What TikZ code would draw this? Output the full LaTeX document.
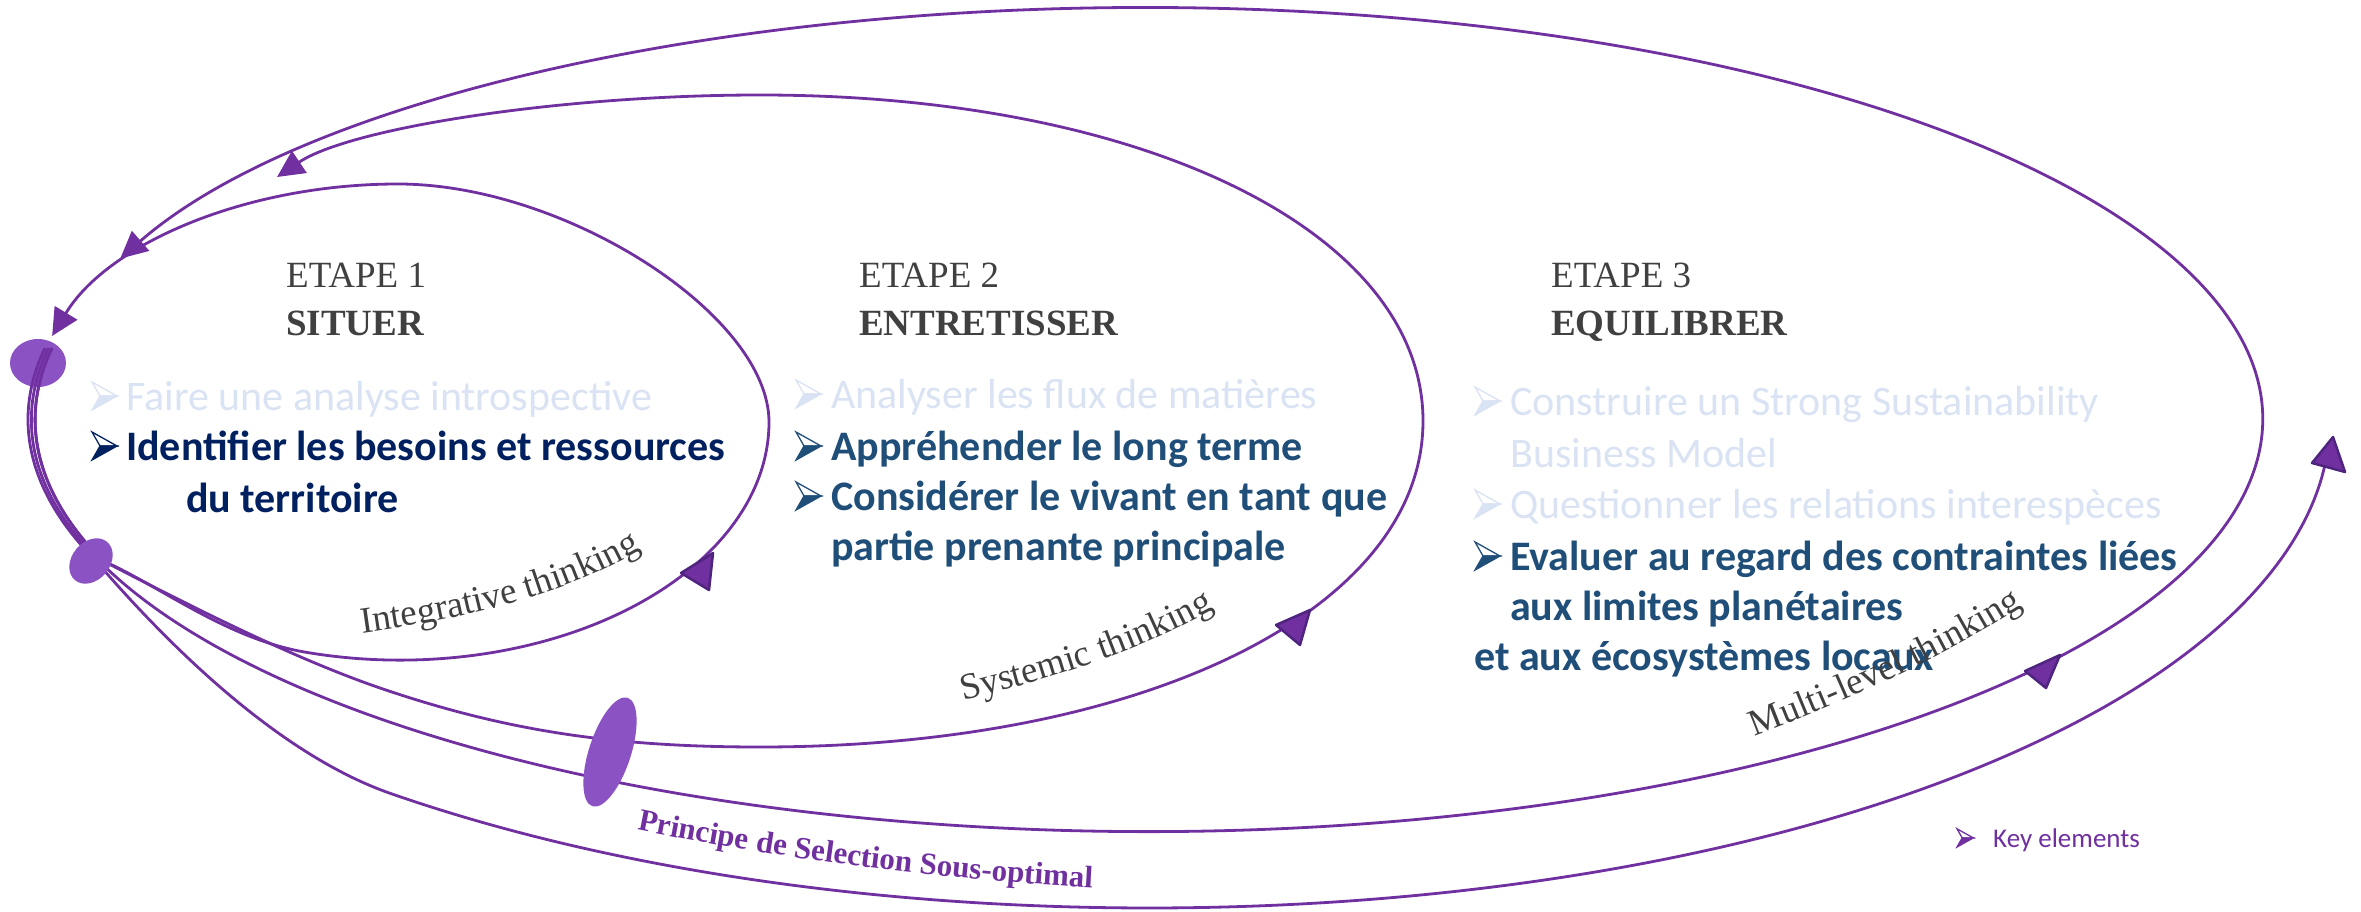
\documentclass[tikz,border=0pt]{standalone}
\usepackage{fontspec}
\setmainfont{Liberation Serif}
\newfontfamily\calfont{Carlito}
\usetikzlibrary{arrows.meta,decorations.text,shapes.geometric}
\definecolor{linepurple}{RGB}{112,48,160}
\definecolor{blobpurple}{RGB}{139,82,196}
\definecolor{tridark}{RGB}{78,36,126}
\definecolor{headgray}{RGB}{64,64,64}
\definecolor{palebl}{RGB}{218,227,243}
\definecolor{navyb}{RGB}{0,32,96}
\definecolor{steelb}{RGB}{31,78,121}
\newcommand\labfont{\fontsize{37}{37}\selectfont}
\newcommand\prfont{\bfseries\fontsize{31}{31}\selectfont}
\begin{document}
\begin{tikzpicture}[x=1pt,y=-1pt,
  loopline/.style={draw=linepurple, line width=2.8pt},
  endtip/.style={-{Triangle[length=27pt,width=26pt]}},
  blob/.style={ellipse, fill=blobpurple, draw=none, inner sep=0pt},
  midtri/.style={fill=linepurple, draw=tridark, line width=2.5pt, line join=round},
  head/.style={anchor=base west, inner sep=0pt, text=headgray, font=\fontsize{37}{37}\selectfont},
  headb/.style={anchor=base west, inner sep=0pt, text=headgray, font=\bfseries\fontsize{37}{37}\selectfont},
  pale/.style={anchor=base west, inner sep=0pt, text=palebl, font=\calfont\fontsize{42}{42}\selectfont},
  navyline/.style={anchor=base west, inner sep=0pt, text=navyb, font=\calfont\bfseries\fontsize{42}{42}\selectfont},
  steelline/.style={anchor=base west, inner sep=0pt, text=steelb, font=\calfont\bfseries\fontsize{42}{42}\selectfont},
  keytext/.style={anchor=base west, inner sep=0pt, text=linepurple, font=\calfont\fontsize{27}{27}\selectfont},
  bulshape/.pic={
    \filldraw[draw=#1, fill=white, line width=1.3pt, line join=miter] (0,-28) -- (25,-14) -- (8,-14) -- cycle;
    \filldraw[draw=#1, fill=#1, line width=1.3pt, line join=miter] (8,-14) -- (25,-14) -- (0,0) -- cycle;
  }
]
\fill[white] (0,0) rectangle (2361,912);
\useasboundingbox (0,0) rectangle (2361,912);

% top-left ellipse (under the lines)
\node[blob, minimum width=56pt, minimum height=48pt] (ea) at (38,363) {};

\coordinate (st1) at (52,348);
\coordinate (st2) at (52,348);
\coordinate (st3) at (48.5,348);
\coordinate (st4) at (45,348);

% loop 1 : Integrative thinking
\draw[loopline, endtip] (st1) arc[start angle=190, end angle=160, x radius=1112, y radius=412]
  .. controls (158.6,585) and (225.7,638.4) .. (304.5,652)
  arc[start angle=105, end angle=0, x radius=369, y radius=238]
  .. controls (769,315) and (565,184) .. (398,184)
  arc[start angle=-90, end angle=-158.8, x radius=371, y radius=238] coordinate (end1);

% loop 2 : Systemic thinking
\draw[loopline, endtip] (st2) arc[start angle=190, end angle=160, x radius=1112, y radius=412]
  .. controls (179,600) and (285.5,655.4) .. (380,688)
  .. controls (503,730) and (610,747) .. (760,747)
  .. controls (1144.5,747) and (1423,610) .. (1423,421)
  .. controls (1423,232) and (1144.5,95) .. (760,95)
  .. controls (560,95) and (350,128) .. (277,177) coordinate (end2);

% loop 3 : Multi-level thinking
\draw[loopline, endtip] (st3) arc[start angle=190, end angle=-157, x radius=1115.5, y radius=412] coordinate (end3);

% outer curve : Principe de Selection Sous-optimal
\draw[loopline] (st4) arc[start angle=190, end angle=160, x radius=1119, y radius=412]
  .. controls (167,643.6) and (278,754.6) .. (391.5,793.8)
  arc[start angle=130, end angle=5.4, x radius=1180, y radius=488] coordinate (end4);

% ellipses over the lines
\node[blob, minimum width=50pt, minimum height=38pt, rotate=50] (eb) at (91,561) {};
\node[blob, minimum width=42pt, minimum height=114pt, rotate=-18] (ec) at (610,752) {};

% arrow marks on the loops
\filldraw[midtri] (681,573) -- (713,553) -- (709,590) -- cycle;
\filldraw[midtri] (1276,625) -- (1310,610) -- (1300,645) -- cycle;
\filldraw[midtri] (2025,671) -- (2060,655) -- (2046,688) -- cycle;
\filldraw[midtri] (2312,463) -- (2333,437) -- (2345,472) -- cycle;

% headings
\node[head] (e1) at (286,287) {ETAPE 1};
\node[headb] (s1) at (286,335) {SITUER};
\node[head] (e2) at (859,287) {ETAPE 2};
\node[headb] (s2) at (859,335) {ENTRETISSER};
\node[head] (e3) at (1551,287) {ETAPE 3};
\node[headb] (s3) at (1551,335) {EQUILIBRER};

% stage 1 items
\pic at (92,410) {bulshape=palebl};
\node[pale] (a1) at (126,410) {Faire une analyse introspective};
\pic at (92,460) {bulshape=navyb};
\node[navyline] (a2) at (126,460) {Identifier les besoins et ressources};
\node[navyline] (a3) at (186,512) {du territoire};

% stage 2 items
\pic at (796,408) {bulshape=palebl};
\node[pale] (b1) at (831,408) {Analyser les flux de matières};
\pic at (796,460) {bulshape=steelb};
\node[steelline] (b2) at (831,460) {Appréhender le long terme};
\pic at (796,510) {bulshape=steelb};
\node[steelline] (b3) at (831,510) {Considérer le vivant en tant que};
\node[steelline] (b4) at (831,560) {partie prenante principale};

% stage 3 items
\pic at (1475,415) {bulshape=palebl};
\node[pale] (c1) at (1510,415) {Construire un Strong Sustainability};
\node[pale] (c2) at (1510,467) {Business Model};
\pic at (1475,518) {bulshape=palebl};
\node[pale] (c3) at (1510,518) {Questionner les relations interespèces};
\pic at (1475,570) {bulshape=steelb};
\node[steelline] (c4) at (1510,570) {Evaluer au regard des contraintes liées};
\node[steelline] (c5) at (1510,620) {aux limites planétaires};
\node[steelline] (c6) at (1474,670) {et aux écosystèmes locaux};

% curved labels
\path[decorate, decoration={text along path, text align=center, text color=headgray,
  text={|\labfont|Integrative thinking}}] (340,636) .. controls (450,622) and (570,598) .. (660,538);
\path[decorate, decoration={text along path, text align=center, text color=headgray,
  text={|\labfont|Systemic thinking}}] (940,706) .. controls (1040,682) and (1140,655) .. (1235,597);
\path[decorate, decoration={text along path, text align=center, text color=headgray,
  text={|\labfont|Multi-level thinking}}] (1730,746) .. controls (1830,708) and (1945,660) .. (2045,592);
\path[decorate, decoration={text along path, text align=center, text color=linepurple,
  text={|\prfont|Principe de Selection Sous-optimal}}] (610,824) .. controls (760,856) and (930,880) .. (1120,889);

% key
\pic[scale=0.65] at (1957,847) {bulshape=linepurple};
\node[keytext] (key) at (1993,847) {Key elements};
\end{tikzpicture}
\end{document}
